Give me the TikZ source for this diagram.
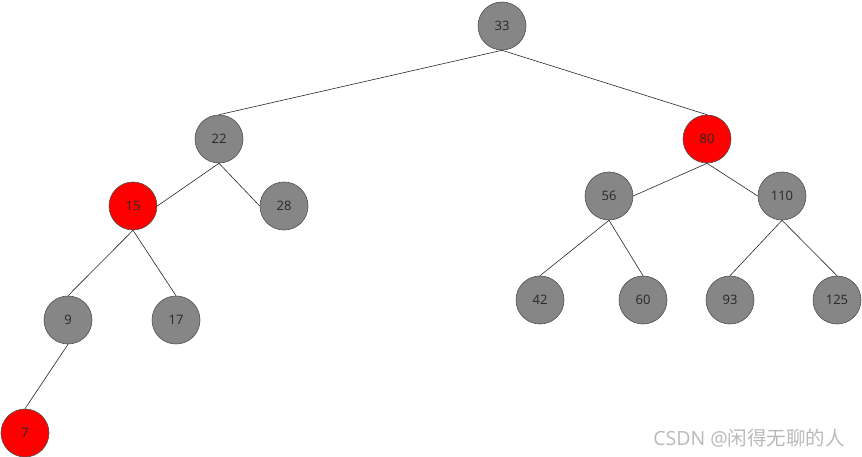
\documentclass[tikz,border=0pt]{standalone}
\usepackage{tikz}
\usetikzlibrary{calc}
\usetikzlibrary{positioning}
\usepackage{fontspec}
\setmainfont{Open Sans}
\newfontfamily\cjk{Noto Sans CJK SC}
\definecolor{nodegray}{RGB}{134,134,134}
\definecolor{rimgray}{RGB}{80,80,80}
\definecolor{nodered}{RGB}{255,0,0}
\definecolor{numtext}{RGB}{40,40,40}
\definecolor{marktext}{RGB}{185,185,185}

\begin{document}
\begin{tikzpicture}[x=1pt,y=-1pt,
    blk/.style={circle,minimum size=48pt,inner sep=0pt,fill=nodegray,draw=rimgray,
      line width=0.6pt,text=numtext,font=\fontsize{13}{15}\selectfont},
    rd/.style={blk,fill=nodered},
    edge/.style={draw=black!85,line width=0.6pt}]
      \useasboundingbox (0,0) rectangle (862,457);
      % root and first level
      \node[blk] (n33)  at (502,26)  {33};
      \node[blk] (n22)  at (219,139) {22};
      \node[rd]  (n80)  at (707,139) {80};
      % second level
      \node[rd]  (n15)  at (133,206) {15};
      \node[blk] (n28)  at (284,206) {28};
      \node[blk] (n56)  at (609,196) {56};
      \node[blk] (n110) at (782,196) {110};
      % third level
      \node[blk] (n9)   at (68,320)  {9};
      \node[blk] (n17)  at (176,320) {17};
      \node[blk] (n42)  at (540,300) {42};
      \node[blk] (n60)  at (643,300) {60};
      \node[blk] (n93)  at (730,300) {93};
      \node[blk] (n125) at (837,300) {125};
      % fourth level
      \node[rd]  (n7)   at (25,433)  {7};

      \draw[edge] (n33.south) -- (n22.north);
      \draw[edge] (n33.south) -- (n80.north);
      \draw[edge] (n22.south) -- (n15.east);
      \draw[edge] (n22.south) -- (n28.west);
      \draw[edge] (n80.south) -- (n56.east);
      \draw[edge] (n80.south) -- (n110.west);
      \draw[edge] (n15.south) -- (n9.north);
      \draw[edge] (n15.south) -- (n17.north);
      \draw[edge] (n56.south) -- (n42.north);
      \draw[edge] (n56.south) -- (n60.north);
      \draw[edge] (n110.south) -- (n93.north);
      \draw[edge] (n110.south) -- (n125.north);
      \draw[edge] (n9.south) -- (n7.north);

      \node[anchor=base east,text=marktext,font=\fontsize{19.5}{21}\selectfont,inner sep=0pt]
        (mark) at (845,445) {CSDN @{\cjk 闲得无聊的人}};
\end{tikzpicture}
\end{document}
